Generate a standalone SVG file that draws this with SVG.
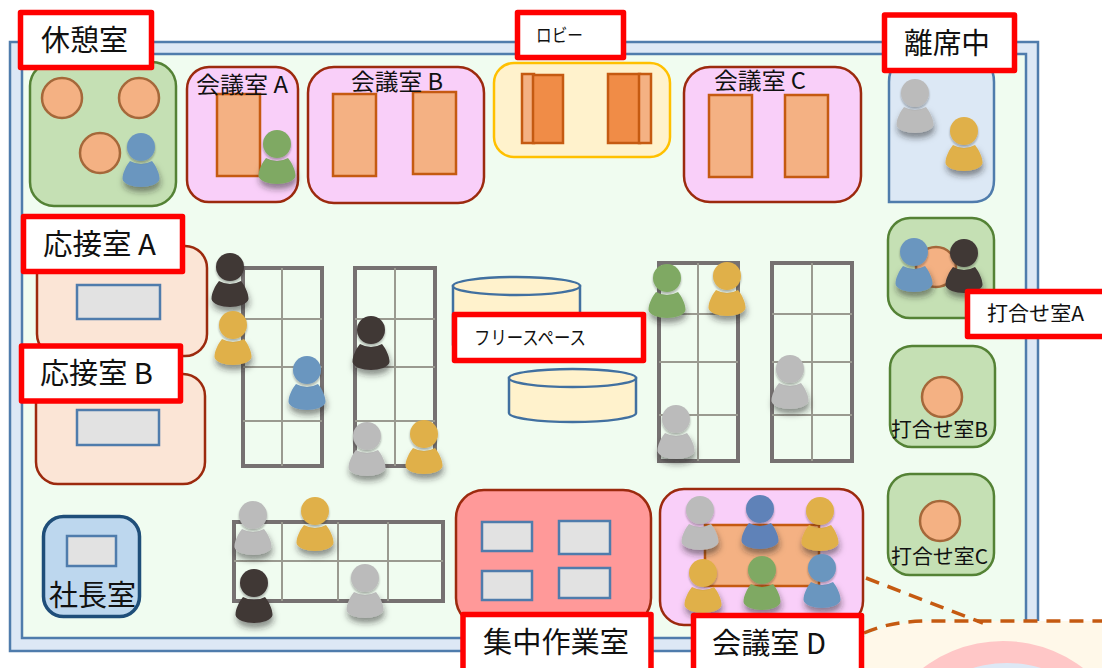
<svg xmlns="http://www.w3.org/2000/svg" xmlns:xlink="http://www.w3.org/1999/xlink" width="1102" height="668" viewBox="0 0 1102 668">
<style>
text{font-family:"Noto Sans CJK JP","Noto Sans",sans-serif;fill:#111}
.lbl{fill:#fff;stroke:#f00;stroke-width:5.5;stroke-linejoin:round}
.big{font-size:29px}.mid{font-size:23px}.sm{font-size:20px}
.green{fill:#c5e0b4;stroke:#548235;stroke-width:2.5}
.pink{fill:#f9cff9;stroke:#9c2a0e;stroke-width:2.5}
.peach{fill:#fbe5d6;stroke:#9c2a0e;stroke-width:2.5}
.tbl{fill:#f4b183;stroke:#c55a11;stroke-width:2.5}
.dark{fill:#f08c47;stroke:#c55a11;stroke-width:2.5}
.rnd{fill:#f4b183;stroke:#a5683a;stroke-width:2.5}
.desk{fill:#e2e2e2;stroke:#4f7cac;stroke-width:2.5}
.cyl{fill:#fff2cc;stroke:#4170a0;stroke-width:2.5}
.go{fill:none;stroke:#767171;stroke-width:4}
.gi{fill:none;stroke:#9a9a90;stroke-width:2}
.dash{fill:none;stroke:#c55a11;stroke-width:3.5;stroke-dasharray:14 9}
.pb{fill:#6b96bf}.pd{fill:#5f82b8}.pg{fill:#7fa963}.pa{fill:#bbbbbb}.py{fill:#e0b048}.pk{fill:#403736}
</style>
<defs>
<filter id="sh" x="-50%" y="-50%" width="200%" height="220%"><feDropShadow dx="1" dy="5" stdDeviation="3" flood-color="#222" flood-opacity=".5"/></filter>
<filter id="hs" x="-50%" y="-50%" width="200%" height="200%"><feDropShadow dx="0" dy="2" stdDeviation="1" flood-color="#222" flood-opacity=".35"/></filter>
<g id="person">
<path filter="url(#sh)" d="M-11,14 Q0,20 11,14 C15,19 18.500,26 18.500,32 C18,37 8,40 0,40 C-8,40 -18,37 -18.500,32 C-18.500,26 -15,19 -11,14Z"/>
<circle filter="url(#hs)" r="14"/>
</g>
</defs>
<rect x="0" y="0" width="1102" height="668" fill="#fff"/>
<g id="floor">
<rect x="10" y="42" width="1028" height="609" fill="#dde8f5" stroke="#4f7cac" stroke-width="2.5"/>
<rect x="22" y="54" width="1004" height="584" fill="#f0fcf0" stroke="#4f7cac" stroke-width="2.5"/>
</g>
<g id="room-rest">
<rect class="green" x="30" y="62" width="146" height="144" rx="24"/>
<circle class="rnd" cx="62" cy="98" r="20"/><circle class="rnd" cx="139" cy="98" r="20"/><circle class="rnd" cx="100" cy="153" r="20"/>
</g>
<g id="room-a">
<rect class="pink" x="187" y="67" width="111" height="135" rx="22"/>
<rect class="tbl" x="217" y="94" width="43" height="82"/>
<text class="mid" x="196" y="93" textLength="92" lengthAdjust="spacingAndGlyphs">会議室 A</text>
</g>
<g id="room-b">
<rect class="pink" x="308" y="67" width="176" height="136" rx="26"/>
<rect class="tbl" x="333" y="94" width="43" height="82"/><rect class="tbl" x="413" y="92" width="43" height="82"/>
<text class="mid" x="351" y="90" textLength="92" lengthAdjust="spacingAndGlyphs">会議室 B</text>
</g>
<g id="lobby">
<rect x="494" y="63" width="176" height="94" rx="20" fill="#fff2cc" stroke="#ffc000" stroke-width="2.5"/>
<rect class="tbl" x="522" y="74" width="12" height="69"/><rect class="dark" x="533" y="75" width="30" height="68"/>
<rect class="dark" x="608" y="74" width="32" height="69"/><rect class="tbl" x="639" y="74" width="12" height="69"/>
</g>
<g id="room-c">
<rect class="pink" x="684" y="67" width="177" height="135" rx="26"/>
<rect class="tbl" x="709" y="95" width="43" height="82"/><rect class="tbl" x="785" y="95" width="43" height="82"/>
<text class="mid" x="714" y="89" textLength="92" lengthAdjust="spacingAndGlyphs">会議室 C</text>
</g>
<g id="room-away">
<path d="M889,202 V82 Q889,60 911,60 H972 Q994,60 994,82 V180 Q994,202 972,202Z" fill="#dce8f5" stroke="#4f7cac" stroke-width="2.5"/>
</g>
<g id="meet-a">
<rect class="green" x="888" y="218" width="106" height="100" rx="22"/>
<circle class="rnd" cx="936" cy="267" r="20"/>
</g>
<g id="meet-b">
<rect class="green" x="890" y="346" width="105" height="101" rx="22"/>
<circle class="rnd" cx="942" cy="397" r="20"/>
<text class="sm" x="891" y="437" textLength="97" lengthAdjust="spacingAndGlyphs">打合せ室B</text>
</g>
<g id="meet-c">
<rect class="green" x="888" y="474" width="106" height="101" rx="22"/>
<circle class="rnd" cx="940" cy="521" r="20"/>
<text class="sm" x="891" y="564" textLength="97" lengthAdjust="spacingAndGlyphs">打合せ室C</text>
</g>
<g id="reception-a">
<rect class="peach" x="37" y="246" width="170" height="110" rx="22"/>
<rect class="desk" x="77" y="285" width="83" height="34"/>
</g>
<g id="reception-b">
<rect class="peach" x="36" y="374" width="169" height="110" rx="22"/>
<rect class="desk" x="77" y="410" width="82" height="35"/>
</g>
<g id="president">
<rect x="43.500" y="516.500" width="96" height="100" rx="20" fill="#bdd7ee" stroke="#1f4e79" stroke-width="3.500"/>
<rect class="desk" x="67" y="536" width="49" height="30"/>
<text class="big" x="49" y="606" textLength="87" lengthAdjust="spacingAndGlyphs">社長室</text>
</g>
<g id="focus-room">
<rect x="456" y="490" width="195" height="136" rx="28" fill="#ff9999" stroke="#9c2a0e" stroke-width="2.5"/>
<rect class="desk" x="482" y="522" width="50" height="29"/><rect class="desk" x="559" y="521" width="51" height="33"/>
<rect class="desk" x="482" y="571" width="50" height="29"/><rect class="desk" x="559" y="568" width="51" height="30"/>
</g>
<g id="room-d">
<rect class="pink" x="660" y="489" width="203" height="136" rx="24"/>
<rect class="tbl" x="705" y="525" width="114" height="61"/>
</g>
<g id="desks">
<g id="desk-1"><rect class="go" x="243" y="268" width="79" height="198"/><path class="gi" d="M282,268V466M243,319H322M243,367H322M243,421H322"/></g>
<g id="desk-2"><rect class="go" x="355" y="268" width="80" height="198"/><path class="gi" d="M395,268V466M355,319H435M355,367H435M355,421H435"/></g>
<g id="desk-3"><rect class="go" x="659" y="263" width="79" height="198"/><path class="gi" d="M698,263V461M659,314H738M659,362H738M659,415H738"/></g>
<g id="desk-4"><rect class="go" x="772" y="263" width="80" height="198"/><path class="gi" d="M812,263V461M772,314H852M772,362H852M772,415H852"/></g>
<g id="desk-5"><rect class="go" x="234" y="522" width="209" height="79"/><path class="gi" d="M282,522V601M338,522V601M388,522V601M234,561H443"/></g>
</g>
<g id="free-space">
<path class="cyl" d="M453,286 V345 A63,9 0 0 0 580,345 V286Z"/><ellipse class="cyl" cx="516.500" cy="286" rx="63.500" ry="9"/>
<path class="cyl" d="M509,378 V413 A63.500,9 0 0 0 636,413 V378Z"/><ellipse class="cyl" cx="572.500" cy="378" rx="63.500" ry="9"/>
</g>
<g id="callout">
<path d="M855,642 C880,626 905,621 930,621 H1110 V680 H855Z" fill="#fff8e9"/>
<circle cx="1003" cy="773" r="132" fill="#ffc7c7"/>
<circle cx="1007" cy="781" r="118" fill="#dde8f5"/>
</g>
<g id="connectors">
<path class="dash" d="M866,578 L983,623"/>
<path class="dash" d="M864,633 C885,624 905,621 930,621 H1102"/>
</g>
<g id="people">
<use href="#person" class="pb" x="141" y="147"/>
<use href="#person" class="pg" x="277" y="144"/>
<use href="#person" class="pa" x="915" y="93"/>
<use href="#person" class="py" x="964" y="131"/>
<use href="#person" class="pk" x="230" y="267"/>
<use href="#person" class="py" x="233" y="325"/>
<use href="#person" class="pb" x="307" y="370"/>
<use href="#person" class="pk" x="371" y="330"/>
<use href="#person" class="pa" x="367" y="436"/>
<use href="#person" class="py" x="424" y="434"/>
<use href="#person" class="pg" x="667" y="278"/>
<use href="#person" class="py" x="727" y="276"/>
<use href="#person" class="pa" x="676" y="419"/>
<use href="#person" class="pa" x="790" y="369"/>
<use href="#person" class="pa" x="253" y="515"/>
<use href="#person" class="py" x="315" y="511"/>
<use href="#person" class="pk" x="254" y="583"/>
<use href="#person" class="pa" x="365" y="578"/>
<use href="#person" class="pb" x="914" y="252"/>
<use href="#person" class="pk" x="964" y="253"/>
<use href="#person" class="pa" x="700" y="510"/>
<use href="#person" class="pd" x="760" y="509"/>
<use href="#person" class="py" x="820" y="511"/>
<use href="#person" class="py" x="703" y="573"/>
<use href="#person" class="pg" x="762" y="570"/>
<use href="#person" class="pb" x="822" y="568"/>
</g>
<g id="label-rest"><rect class="lbl" x="20.500" y="12.500" width="131" height="55"/><text class="big" x="41" y="51" textLength="87" lengthAdjust="spacingAndGlyphs">休憩室</text></g>
<g id="label-lobby"><rect class="lbl" x="517.500" y="12.500" width="106" height="45"/><text x="536" y="42" font-size="18" textLength="47" lengthAdjust="spacingAndGlyphs">ロビー</text></g>
<g id="label-away"><rect class="lbl" x="884.500" y="15" width="130" height="55.500"/><text class="big" x="904" y="54" textLength="86" lengthAdjust="spacingAndGlyphs">離席中</text></g>
<g id="label-meet-a"><rect class="lbl" x="967.500" y="291.500" width="150" height="45"/><text class="sm" x="987" y="321" textLength="97" lengthAdjust="spacingAndGlyphs">打合せ室A</text></g>
<g id="label-reception-a"><rect class="lbl" x="23.500" y="216.500" width="159" height="55"/><text class="big" x="43" y="255" textLength="113" lengthAdjust="spacingAndGlyphs">応接室 A</text></g>
<g id="label-reception-b"><rect class="lbl" x="21.500" y="346" width="159" height="55"/><text class="big" x="40" y="384" textLength="113" lengthAdjust="spacingAndGlyphs">応接室 B</text></g>
<g id="label-free"><rect class="lbl" x="454.500" y="314.500" width="189" height="46"/><text x="474" y="345" font-size="19" textLength="112" lengthAdjust="spacingAndGlyphs">フリースペース</text></g>
<g id="label-focus"><rect class="lbl" x="463" y="614.500" width="188" height="70"/><text class="big" x="483" y="653" textLength="146" lengthAdjust="spacingAndGlyphs">集中作業室</text></g>
<g id="label-d"><rect class="lbl" x="693.500" y="615.500" width="168" height="70"/><text class="big" x="712" y="654" textLength="114" lengthAdjust="spacingAndGlyphs">会議室 D</text></g>
</svg>
